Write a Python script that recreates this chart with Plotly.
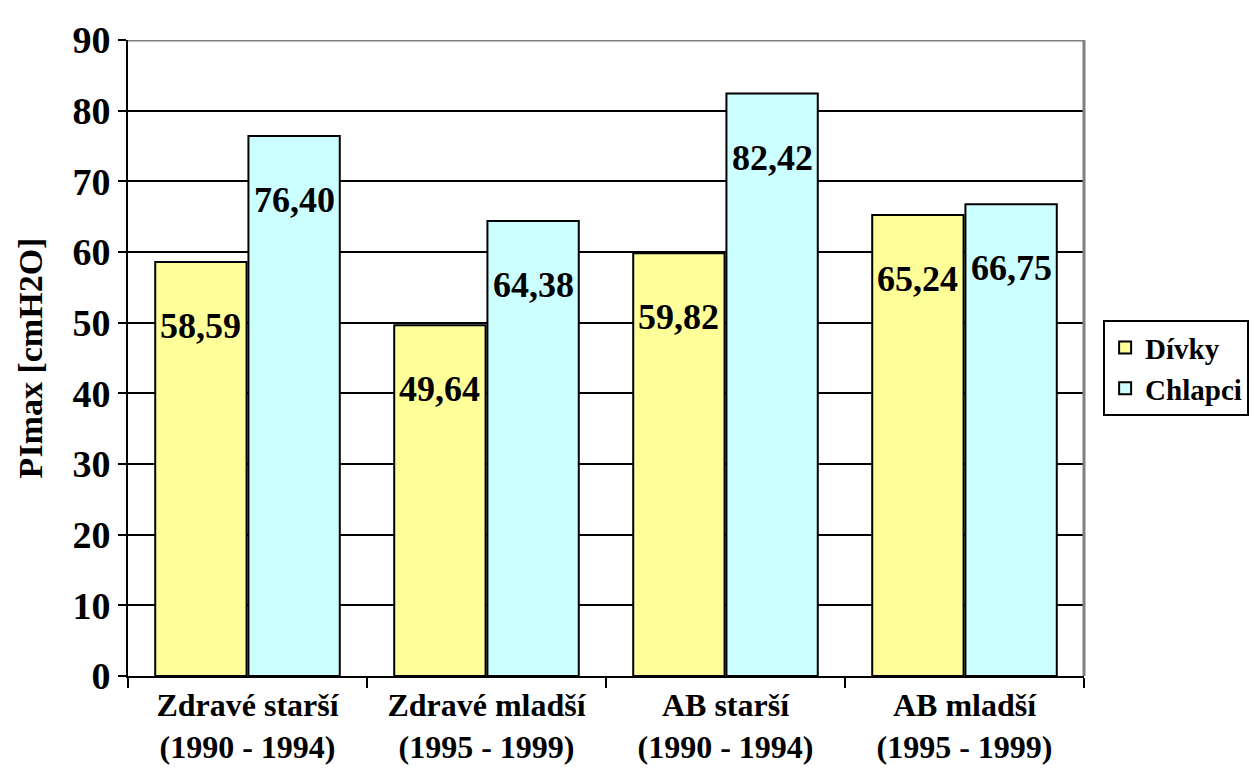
import plotly.graph_objects as go

# Groups and PImax values (cmH2O)
categories = ["Zdravé starší<br>(1990 - 1994)", "Zdravé mladší<br>(1995 - 1999)",
              "AB starší<br>(1990 - 1994)", "AB mladší<br>(1995 - 1999)"]
divky = [58.59, 49.64, 59.82, 65.24]
chlapci = [76.40, 64.38, 82.42, 66.75]
y_ticks = [0, 10, 20, 30, 40, 50, 60, 70, 80, 90]

FONT = "Liberation Serif"


def fmt(v):
    return f"{v:.2f}".replace(".", ",")


fig = go.Figure()
fig.add_trace(go.Bar(name="Dívky", x=categories, y=divky,
                     marker=dict(color="#FFFF99", line=dict(color="black", width=2))))
fig.add_trace(go.Bar(name="Chlapci", x=categories, y=chlapci,
                     marker=dict(color="#CCFFFF", line=dict(color="black", width=2))))

bargap, groupgap = 0.22, 0.02
slot = (1 - bargap) / 2
annotations = []
for i, (d, c) in enumerate(zip(divky, chlapci)):
    for val, off in ((d, -slot / 2), (c, slot / 2)):
        annotations.append(dict(x=i + off, y=val, xref="x", yref="y", text=fmt(val),
                                showarrow=False, yshift=-64, yanchor="middle",
                                font=dict(family=FONT, size=36, color="black", weight="bold")))

fig.update_layout(
    width=1256, height=781,
    margin=dict(l=128, r=172, t=40, b=105, autoexpand=False),
    paper_bgcolor="white", plot_bgcolor="white",
    barmode="group", bargap=bargap, bargroupgap=groupgap,
    font=dict(family=FONT, size=34, color="black", weight="bold"),
    annotations=annotations,
    legend=dict(x=1.02, y=0.484, xanchor="left", yanchor="middle",
                bordercolor="black", borderwidth=2, bgcolor="white",
                font=dict(family=FONT, size=29, weight="bold"),
                tracegroupgap=0, itemsizing="constant", itemwidth=30),
    xaxis=dict(type="category", showline=True, linecolor="black", linewidth=2,
               ticks="outside", tickson="boundaries", ticklen=10, tickwidth=2, tickcolor="black",
               tickangle=0, automargin=False,
               tickfont=dict(family=FONT, size=32, weight="bold"), showgrid=False),
    yaxis=dict(range=[0, 90], tickvals=y_ticks, showline=True, linecolor="black", linewidth=2,
               ticks="outside", ticklen=8, tickwidth=2, tickcolor="black",
               showgrid=True, gridcolor="black", gridwidth=2, zeroline=False, automargin=False,
               tickfont=dict(family=FONT, size=38, weight="bold"),
               title=dict(text="PImax [cmH2O]", standoff=20,
                          font=dict(family=FONT, size=34, weight="bold"))),
    shapes=[
        dict(type="line", xref="paper", yref="y", x0=0, x1=1, y0=90, y1=90,
             line=dict(color="#808080", width=3)),
        dict(type="line", xref="paper", yref="paper", x0=1, x1=1, y0=0, y1=1,
             line=dict(color="#808080", width=3)),
    ],
)

fig.write_html("out.html")
